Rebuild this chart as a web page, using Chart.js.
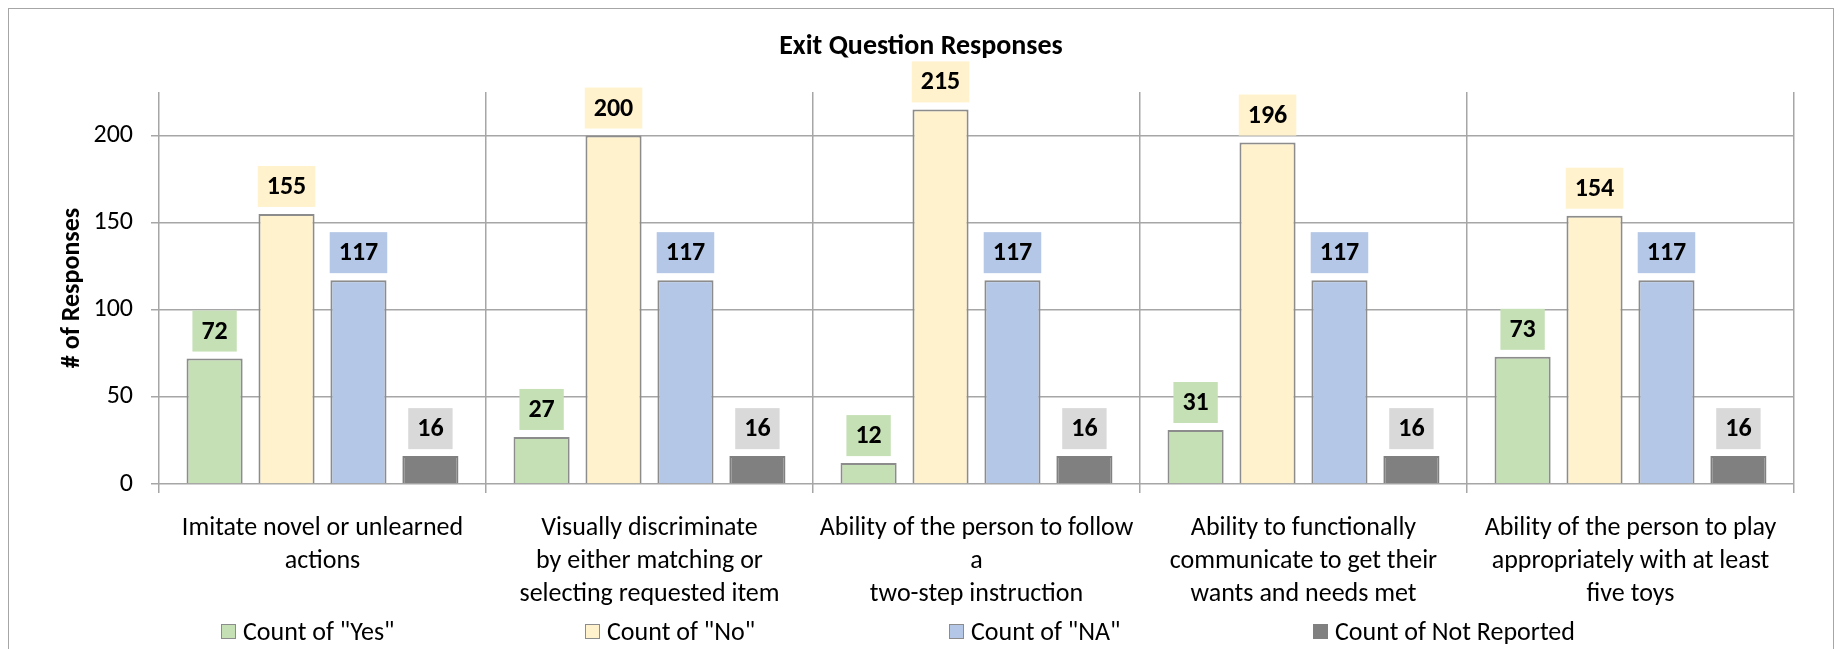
<!DOCTYPE html>
<html>
<head>
<meta charset="utf-8">
<title>Exit Question Responses</title>
<script src="https://cdn.jsdelivr.net/npm/chart.js@4.4.1/dist/chart.umd.min.js"></script>
<style>
  html, body { margin: 0; padding: 0; background: #fff; }
  #wrap { position: relative; width: 1846px; height: 649px; overflow: hidden; }
  #frame { position: absolute; left: 8px; top: 8px; width: 1826px; height: 700px; border: 1.5px solid #a6a6a6; box-sizing: border-box; }
  #chart { position: absolute; left: 0; top: 0; }
  #legend { position: absolute; left: 0; top: 616px; width: 100%; height: 30px; font: 26px Carlito, Lato, sans-serif; color: #000; }
  .legend-item { position: absolute; top: 0; height: 30px; display: flex; align-items: center; white-space: nowrap; }
  .legend-box { width: 15px; height: 15px; margin-right: 7px; box-sizing: border-box; border: 1.5px solid #8c8c8c; }
</style>
</head>
<body>
<div id="wrap">
  <div id="frame"></div>
  <canvas id="chart" width="1846" height="649"></canvas>
  <div id="legend"></div>
</div>
<script>
// Dữ liệu của biểu đồ
const categories = [
    ['Imitate novel or unlearned', 'actions'],
    ['Visually discriminate', 'by either matching or', 'selecting requested item'],
    ['Ability of the person to follow', 'a', 'two-step instruction'],
    ['Ability to functionally', 'communicate to get their', 'wants and needs met'],
    ['Ability of the person to play', 'appropriately with at least', 'five toys']
];
const seriesNames = ['Count of "Yes"', 'Count of "No"', 'Count of "NA"', 'Count of Not Reported'];
const yesCounts = [72, 27, 12, 31, 73];
const noCounts = [155, 200, 215, 196, 154];
const naCounts = [117, 117, 117, 117, 117];
const notReportedCounts = [16, 16, 16, 16, 16];
const yTicks = [0, 50, 100, 150, 200];
const yMax = 225;

const barFills = ['#C5E0B4', '#FFF2CC', '#B4C7E7', '#808080'];
const barBorders = ['#8c8c8c', '#8c8c8c', '#8c8c8c', '#808080'];
const labelFills = ['#C5E0B4', '#FFF2CC', '#B4C7E7', '#D9D9D9'];
const fontFamily = 'Carlito, Lato, sans-serif';
const gridColor = '#a6a6a6';

// Nhãn giá trị trên mỗi cột (nền màu như Excel)
const barLabels = {
    id: 'barLabels',
    afterDatasetsDraw(chart) {
        const ctx = chart.ctx;
        ctx.save();
        ctx.font = 'bold 26px ' + fontFamily;
        ctx.textAlign = 'center';
        ctx.textBaseline = 'middle';
        chart.data.datasets.forEach((ds, i) => {
            chart.getDatasetMeta(i).data.forEach((bar, j) => {
                const text = String(ds.data[j]);
                const w = ctx.measureText(text).width + 18;
                const h = 41;
                const bottom = bar.y - 7;
                ctx.fillStyle = labelFills[i];
                ctx.fillRect(bar.x - w / 2, bottom - h, w, h);
                ctx.fillStyle = '#000';
                ctx.fillText(text, bar.x, bottom - h / 2 + 1);
            });
        });
        ctx.restore();
    }
};

// Chú thích dạng HTML, các mục cách đều nhau
function renderLegend() {
    const legend = document.getElementById('legend');
    legend.innerHTML = '';
    seriesNames.forEach((name, i) => {
        const item = document.createElement('div');
        item.className = 'legend-item';
        item.style.left = (221 + i * 364) + 'px';
        const box = document.createElement('span');
        box.className = 'legend-box';
        box.style.background = barFills[i];
        box.style.borderColor = barBorders[i];
        const label = document.createElement('span');
        label.textContent = name;
        item.appendChild(box);
        item.appendChild(label);
        legend.appendChild(item);
    });
}

const ctx = document.getElementById('chart').getContext('2d');
const exitChart = new Chart(ctx, {
    type: 'bar',
    data: {
        labels: categories,
        datasets: [
            { label: seriesNames[0], data: yesCounts },
            { label: seriesNames[1], data: noCounts },
            { label: seriesNames[2], data: naCounts },
            { label: seriesNames[3], data: notReportedCounts }
        ].map((ds, i) => Object.assign(ds, {
            backgroundColor: barFills[i],
            borderColor: barBorders[i],
            borderWidth: 2,
            categoryPercentage: 0.88,
            barPercentage: 0.78
        }))
    },
    options: {
        responsive: false,
        animation: false,
        layout: { padding: { left: 48, right: 52, top: 0, bottom: 0 } },
        plugins: {
            legend: { display: false },
            tooltip: { enabled: false },
            title: {
                display: true,
                text: 'Exit Question Responses',
                color: '#000',
                font: { family: fontFamily, size: 28, weight: 'bold' },
                padding: { top: 30.2, bottom: 28.2 }
            }
        },
        scales: {
            x: {
                grid: { offset: true, color: gridColor, lineWidth: 1.5, tickLength: 9 },
                border: { display: false },
                ticks: {
                    color: '#000',
                    font: { family: fontFamily, size: 26, lineHeight: 1.27 },
                    padding: 19,
                    maxRotation: 0,
                    autoSkip: false
                },
                afterFit: scale => { scale.height = 165; }
            },
            y: {
                min: 0,
                max: yMax,
                grid: { color: gridColor, lineWidth: 1.5, tickLength: 8 },
                border: { display: false },
                ticks: {
                    color: '#000',
                    font: { family: fontFamily, size: 26 },
                    padding: 18
                },
                afterBuildTicks: scale => { scale.ticks = yTicks.map(v => ({ value: v })); },
                afterFit: scale => { scale.width = 111; },
                title: {
                    display: true,
                    text: '# of Responses',
                    color: '#000',
                    font: { family: fontFamily, size: 26, weight: 'bold' },
                    padding: { top: 9, bottom: 0 }
                }
            }
        }
    },
    plugins: [barLabels]
});

renderLegend();
</script>
</body>
</html>
